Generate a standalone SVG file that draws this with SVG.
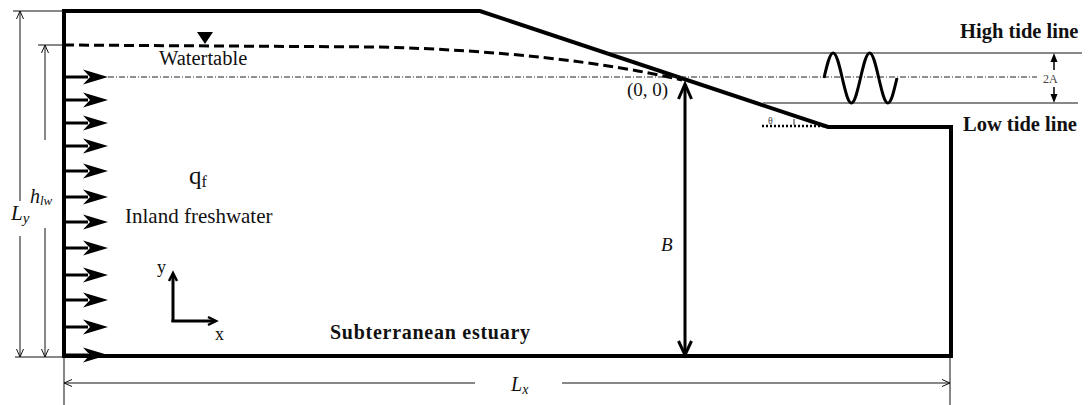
<svg xmlns="http://www.w3.org/2000/svg" xmlns:xlink="http://www.w3.org/1999/xlink" width="1089" height="405" viewBox="0 0 1089 405">
<style>
.thick{fill:none;stroke:#000;stroke-width:4;stroke-linejoin:miter}
.thin{fill:none;stroke:#111;stroke-width:1}
.med{fill:none;stroke:#000;stroke-width:3}
.serif{font-family:"Liberation Serif","Times New Roman",serif;fill:#111}
.bold{font-weight:bold}
.it{font-style:italic}
</style>
<defs>
<g id="flow">
<line x1="0" y1="0" x2="24" y2="0" stroke="#000" stroke-width="3"/>
<polygon points="19,-7.5 44,0 19,7.5 26,0" fill="#000"/>
</g>
</defs>
<rect width="1089" height="405" fill="#fff"/>

<g id="domain">
<path class="thick" d="M64,356 L64,11 L480,11 L828,127 L951,127 L951,356 Z"/>
</g>

<g id="watertable">
<path d="M64,45 L380,47 Q560,52 682,80" fill="none" stroke="#000" stroke-width="3" stroke-dasharray="10,5"/>
<polygon points="197,32 213,32 205,44" fill="#000"/>
<text class="serif" x="159" y="65" font-size="20.5">Watertable</text>
</g>

<g id="inflow">
<use xlink:href="#flow" x="64" y="77"/>
<use xlink:href="#flow" x="64" y="100"/>
<use xlink:href="#flow" x="64" y="123"/>
<use xlink:href="#flow" x="64" y="146"/>
<use xlink:href="#flow" x="64" y="171"/>
<use xlink:href="#flow" x="64" y="197"/>
<use xlink:href="#flow" x="64" y="222"/>
<use xlink:href="#flow" x="64" y="248"/>
<use xlink:href="#flow" x="64" y="275"/>
<use xlink:href="#flow" x="64" y="300"/>
<use xlink:href="#flow" x="64" y="327"/>
<use xlink:href="#flow" x="64" y="355"/>
</g>

<g id="tide">
<line class="thin" x1="605" y1="53" x2="1082" y2="53"/>
<line class="thin" x1="763" y1="103" x2="1078" y2="103"/>
<line x1="108" y1="77" x2="1037" y2="77" stroke="#222" stroke-width="1" stroke-dasharray="6,2,1,2"/>
<path class="med" d="M824,78 C827.05,64.87 829.81,53 833.13,53 C836.44,53 839.2,64.87 842.25,78 C845.3,91.13 848.06,103 851.38,103 C854.69,103 857.45,91.13 860.5,78 C863.55,64.87 866.31,53 869.63,53 C872.94,53 875.7,64.87 878.75,78 C881.8,91.13 884.56,103 887.88,103 C891.19,103 893.95,91.13 897,78"/>
<line x1="1054" y1="70" x2="1054" y2="58" stroke="#000" stroke-width="1.5"/>
<polygon points="1050.5,62 1054,53 1057.5,62" fill="#000"/>
<line x1="1054" y1="87" x2="1054" y2="98" stroke="#000" stroke-width="1.5"/>
<polygon points="1050.5,94 1054,103 1057.5,94" fill="#000"/>
<text class="serif" x="1043" y="83" font-size="12" style="fill:#444">2A</text>
<text class="serif bold" x="960" y="38" font-size="20.5">High tide line</text>
<text class="serif bold" x="963" y="131" font-size="20.5">Low tide line</text>
</g>

<g id="angle">
<line x1="762" y1="126" x2="827" y2="126" stroke="#000" stroke-width="2.5" stroke-dasharray="2,2"/>
<line x1="794" y1="119" x2="794" y2="125" stroke="#333" stroke-width="1"/>
<text class="serif" x="768" y="124" font-size="10" style="fill:#444">θ</text>
</g>

<g id="origin">
<text class="serif" x="627" y="96" font-size="19">(0, 0)</text>
</g>

<g id="B-dim">
<line class="med" x1="685" y1="86" x2="685" y2="353"/>
<polyline class="med" points="678.5,99 685,84 691.5,99"/>
<polyline class="med" points="678.5,341 685,355 691.5,341"/>
<text class="serif it" x="661" y="251" font-size="19">B</text>
</g>

<g id="labels">
<text class="serif" x="189" y="184" font-size="25">q<tspan font-size="16" dy="3">f</tspan></text>
<text class="serif" x="125" y="223" font-size="21">Inland freshwater</text>
<text class="serif bold" x="330" y="339" font-size="20" textLength="200" lengthAdjust="spacing">Subterranean estuary</text>
</g>

<g id="axes">
<line class="med" x1="173" y1="322" x2="173" y2="275"/>
<line class="med" x1="171.5" y1="321" x2="214" y2="321"/>
<polyline fill="none" stroke="#000" stroke-width="2.5" points="169,281 173,273 177,281"/>
<polyline fill="none" stroke="#000" stroke-width="2.5" points="208,317 216,321 208,325"/>
<text class="serif" x="157" y="273" font-size="18">y</text>
<text class="serif" x="215" y="340" font-size="18">x</text>
</g>

<g id="dimensions">
<line class="thin" x1="13" y1="11" x2="64" y2="11"/>
<line class="thin" x1="15" y1="357" x2="64" y2="357"/>
<line class="thin" x1="38" y1="45" x2="64" y2="45"/>
<line class="thin" x1="20" y1="11" x2="20" y2="201"/>
<line class="thin" x1="20" y1="236" x2="20" y2="357"/>
<polyline class="thin" points="16.5,19 20,11 23.5,19"/>
<polyline class="thin" points="16.5,349 20,357 23.5,349"/>
<line class="thin" x1="45" y1="45" x2="45" y2="140"/>
<line class="thin" x1="45" y1="228" x2="45" y2="357"/>
<polyline class="thin" points="41.5,53 45,45 48.5,53"/>
<polyline class="thin" points="41.5,349 45,357 48.5,349"/>
<text class="serif it" x="11" y="220" font-size="21">L<tspan font-size="15" dy="3">y</tspan></text>
<text class="serif it" x="30" y="203" font-size="20">h<tspan font-size="13" dy="2">lw</tspan></text>
<line class="thin" x1="64" y1="356" x2="64" y2="405"/>
<line class="thin" x1="950" y1="356" x2="950" y2="405"/>
<line class="thin" x1="64" y1="383" x2="475" y2="383"/>
<line class="thin" x1="562" y1="383" x2="950" y2="383"/>
<polyline class="thin" points="72,379.5 64,383 72,386.5"/>
<polyline class="thin" points="942,379.5 950,383 942,386.5"/>
<text class="serif it" x="511" y="391" font-size="20">L<tspan font-size="14" dy="3">x</tspan></text>
</g>
</svg>
